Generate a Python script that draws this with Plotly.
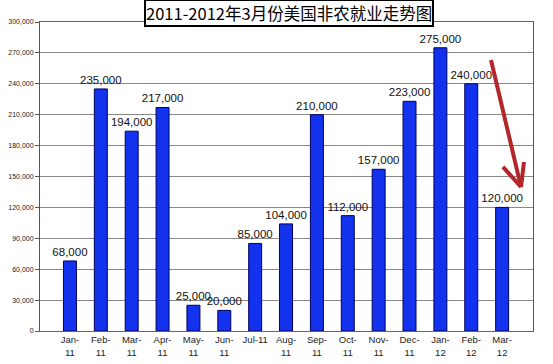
import plotly.graph_objects as go

months = ["Jan-<br>11", "Feb-<br>11", "Mar-<br>11", "Apr-<br>11", "May-<br>11", "Jun-<br>11",
          "Jul-11", "Aug-<br>11", "Sep-<br>11", "Oct-<br>11", "Nov-<br>11", "Dec-<br>11",
          "Jan-<br>12", "Feb-<br>12", "Mar-<br>12"]
payrolls = [68000, 235000, 194000, 217000, 25000, 20000, 85000, 104000, 210000,
            112000, 157000, 223000, 275000, 240000, 120000]
y_ticks = [0, 30000, 60000, 90000, 120000, 150000, 180000, 210000, 240000, 270000, 300000]
title = "2011-2012年3月份美国非农就业走势图"

x_idx = list(range(len(months)))

fig = go.Figure()
fig.add_trace(go.Bar(
    x=x_idx, y=payrolls, width=0.42,
    marker=dict(color="#1232ee", line=dict(color="#000060", width=1)),
    text=[f"{v:,}" for v in payrolls], textposition="outside", constraintext="none",
    textfont=dict(family="Arial, Liberation Sans", size=11.5, color="#111"),
    cliponaxis=False,
))

fig.update_layout(
    width=553, height=364,
    margin=dict(l=40, r=20, t=22, b=33),
    paper_bgcolor="white", plot_bgcolor="white",
    showlegend=False,
    font=dict(family="Arial, Liberation Sans"),
    xaxis=dict(range=[-0.97, 15.0], tickmode="array", tickvals=x_idx, ticktext=months,
               tickfont=dict(size=9.5, color="#222"), showgrid=False,
               showline=True, linecolor="#666", linewidth=1, mirror=True,
               ticks="", zeroline=False, automargin=False),
    yaxis=dict(range=[0, 300000], tickmode="array", tickvals=y_ticks,
               ticktext=[f"{v:,}" for v in y_ticks],
               tickfont=dict(size=7, color="#222"),
               showgrid=True, gridcolor="#888", gridwidth=1,
               showline=True, linecolor="#555", linewidth=1, mirror=True,
               ticks="outside", ticklen=4, tickcolor="#555", zeroline=False,
               automargin=False),
)

fig.add_annotation(
    xref="paper", yref="paper", x=0.506, y=1.0, yanchor="bottom", xanchor="center",
    yshift=-5,
    text=title, showarrow=False,
    font=dict(family="Noto Sans CJK SC, Arial", size=16.5, color="black"),
    bgcolor="white", bordercolor="black", borderwidth=2, borderpad=0,
)

# red trend arrow (paper coordinates)
arrow_col = "#b3262a"
for x0, y0, x1, y1 in [(0.9148, 0.877, 0.9757, 0.466),
                       (0.939, 0.531, 0.9757, 0.466),
                       (0.9817, 0.547, 0.9757, 0.466)]:
    fig.add_shape(type="line", xref="paper", yref="paper", x0=x0, y0=y0, x1=x1, y1=y1,
                  line=dict(color=arrow_col, width=4))

fig.write_html("out.html", config={"displayModeBar": False},
               post_script="document.body.style.margin='0';")
